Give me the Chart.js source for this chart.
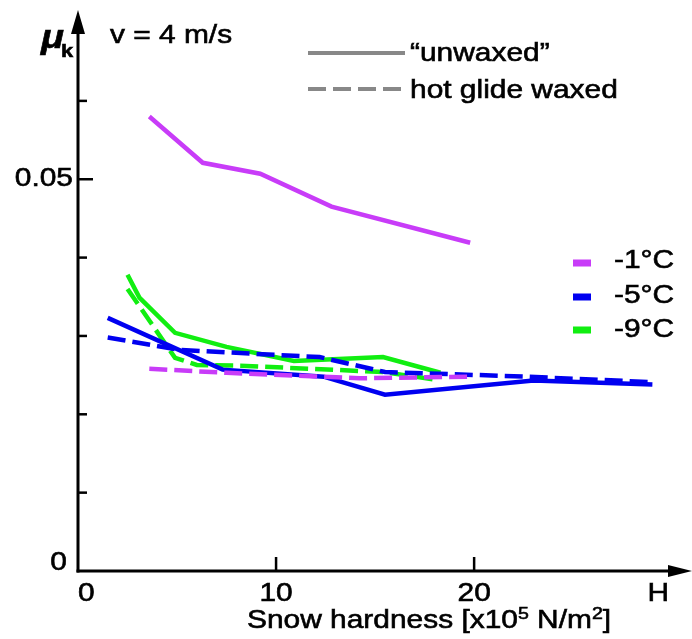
<!DOCTYPE html>
<html>
<head>
<meta charset="utf-8">
<script src="https://cdn.jsdelivr.net/npm/chart.js@4.4.1/dist/chart.umd.min.js"></script>
<style>
  html, body { margin: 0; padding: 0; background: #fff; }
  #wrap { width: 692px; height: 639px; }
</style>
</head>
<body>
<div id="wrap"><canvas id="mu-chart" width="692" height="639"></canvas></div>
<script>
// -1°C
const minus1UnwaxedX = [3.6, 6.3, 9.2, 12.8, 19.8];
const minus1UnwaxedY = [0.0580, 0.0521, 0.0507, 0.0465, 0.0419];
const minus1WaxedX = [3.6, 7.5, 14.2, 19.8];
const minus1WaxedY = [0.0258, 0.0253, 0.0246, 0.0248];
// -5°C
const minus5UnwaxedX = [1.5, 7.3, 12.4, 15.5, 23.0, 29.0];
const minus5UnwaxedY = [0.0323, 0.0257, 0.0248, 0.0225, 0.0243, 0.0238];
const minus5WaxedX = [1.5, 5.2, 12.2, 15.5, 22.7, 29.0];
const minus5WaxedY = [0.0298, 0.0282, 0.0273, 0.0254, 0.0248, 0.0241];
// -9°C
const minus9UnwaxedX = [2.5, 3.1, 4.9, 7.5, 10.9, 15.4, 18.3];
const minus9UnwaxedY = [0.0378, 0.0349, 0.0304, 0.0286, 0.0268, 0.0273, 0.0253];
const minus9WaxedX = [2.5, 4.9, 6.0, 8.2, 15.4, 18.1];
const minus9WaxedY = [0.0360, 0.0272, 0.0263, 0.0262, 0.0254, 0.0244];

// axis ticks and labels
const xTickValues = [10, 20];
const xLabelValues = [0, 10, 20, 29.3];
const xLabelTexts = ['0', '10', '20', 'H'];
const yTickValues = [0.01, 0.02, 0.03, 0.04, 0.05, 0.06];
const yLabelValues = [0, 0.05];
const yLabelTexts = ['0', '0.05'];

const tempNames = ['-1°C', '-5°C', '-9°C'];
const tempColors = ['#c83cf8', '#0000f0', '#11ee11'];
const waxNames = ['\u201Cunwaxed\u201D', 'hot glide waxed'];

const DASH = [18, 7];
const SX = 1.15; // horizontal stretch of the lettering
const FONT = '"Liberation Sans", Arial, sans-serif';

function pts(xs, ys) {
    return xs.map((x, i) => ({ x: x, y: ys[i] }));
}

function series(label, xs, ys, color, dashed) {
    return {
        label: label,
        data: pts(xs, ys),
        borderColor: color,
        borderWidth: 4.5,
        borderDash: dashed ? DASH : [],
        borderCapStyle: 'butt',
        pointRadius: 0,
        tension: 0,
        fill: false
    };
}

// draw horizontally stretched text pieces [text, size, dy, style]
function richText(ctx, pieces, x, y, align) {
    ctx.save();
    ctx.fillStyle = '#000';
    ctx.strokeStyle = '#000';
    ctx.lineWidth = 0.6;
    ctx.textBaseline = 'alphabetic';
    let total = 0;
    pieces.forEach(p => {
        ctx.font = (p[3] || '') + ' ' + p[1] + 'px ' + FONT;
        total += ctx.measureText(p[0]).width * SX;
    });
    let cx = x;
    if (align === 'center') cx = x - total / 2;
    if (align === 'right') cx = x - total;
    pieces.forEach(p => {
        ctx.font = (p[3] || '') + ' ' + p[1] + 'px ' + FONT;
        ctx.save();
        ctx.translate(cx, y + (p[2] || 0));
        ctx.scale(SX, 1);
        ctx.textAlign = 'left';
        ctx.fillText(p[0], 0, 0);
        ctx.strokeText(p[0], 0, 0);
        ctx.restore();
        cx += ctx.measureText(p[0]).width * SX;
    });
    ctx.restore();
}

const axesPlugin = {
    id: 'handAxes',
    afterDraw(chart) {
        const ctx = chart.ctx;
        const xs = chart.scales.x;
        const ys = chart.scales.y;
        const x0 = xs.getPixelForValue(0);
        const y0 = ys.getPixelForValue(0);
        const top = chart.chartArea.top;
        const right = chart.chartArea.right;

        ctx.save();
        ctx.strokeStyle = '#000';
        ctx.fillStyle = '#000';
        ctx.lineWidth = 3;
        // y axis
        ctx.beginPath();
        ctx.moveTo(x0, y0 + 1.5);
        ctx.lineTo(x0, top + 20);
        ctx.stroke();
        ctx.beginPath();
        ctx.moveTo(x0, top);
        ctx.lineTo(x0 - 7, top + 24);
        ctx.lineTo(x0 + 7, top + 24);
        ctx.closePath();
        ctx.fill();
        // x axis
        ctx.beginPath();
        ctx.moveTo(x0 - 1.5, y0);
        ctx.lineTo(right - 20, y0);
        ctx.stroke();
        ctx.beginPath();
        ctx.moveTo(right, y0);
        ctx.lineTo(right - 24, y0 - 6);
        ctx.lineTo(right - 24, y0 + 6);
        ctx.closePath();
        ctx.fill();

        // inside ticks
        ctx.lineWidth = 2.5;
        yTickValues.forEach(v => {
            const py = ys.getPixelForValue(v);
            const len = yLabelValues.includes(v) ? 15 : 9;
            ctx.beginPath();
            ctx.moveTo(x0, py);
            ctx.lineTo(x0 + len, py);
            ctx.stroke();
        });
        xTickValues.forEach(v => {
            const px = xs.getPixelForValue(v);
            ctx.beginPath();
            ctx.moveTo(px, y0);
            ctx.lineTo(px, y0 - 14);
            ctx.stroke();
        });
        ctx.restore();

        // tick labels
        xLabelValues.forEach((v, i) => {
            const px = xs.getPixelForValue(v);
            if (v === 0) richText(ctx, [[xLabelTexts[i], 26]], px, 601, 'left');
            else richText(ctx, [[xLabelTexts[i], 26]], px, 601, 'center');
        });
        yLabelValues.forEach((v, i) => {
            const py = ys.getPixelForValue(v);
            if (v === 0) richText(ctx, [[yLabelTexts[i], 26]], x0 - 11, py - 1, 'right');
            else richText(ctx, [[yLabelTexts[i], 26]], x0 - 5, py + 7, 'right');
        });

        // axis titles
        richText(ctx, [['Snow hardness [x10', 26], ['5', 17, -9], [' N/m', 26], ['2', 17, -9], [']', 26]], 247, 628, 'left');
        richText(ctx, [['\u03BC', 33, 0, 'italic bold']], 41, 48, 'left');
        richText(ctx, [['k', 19, 0, 'bold']], 61, 57, 'left');
        richText(ctx, [['v = 4 m/s', 26]], 110, 43, 'left');

        // line style legend
        ctx.save();
        ctx.strokeStyle = '#888';
        ctx.lineWidth = 4;
        ctx.beginPath();
        ctx.moveTo(308, 53);
        ctx.lineTo(405, 53);
        ctx.stroke();
        ctx.setLineDash(DASH);
        ctx.beginPath();
        ctx.moveTo(308, 89);
        ctx.lineTo(405, 89);
        ctx.stroke();
        ctx.restore();
        richText(ctx, [[waxNames[0], 26]], 410, 61, 'left');
        richText(ctx, [[waxNames[1], 26]], 410, 98, 'left');

        // temperature legend
        const swY = [263, 297, 330];
        const txY = [268, 303, 337];
        tempNames.forEach((n, i) => {
            ctx.save();
            ctx.fillStyle = tempColors[i];
            ctx.fillRect(573, swY[i] - 3.5, 18, 7);
            ctx.restore();
            richText(ctx, [[n, 26]], 614, txY[i], 'left');
        });
    }
};

const ctx = document.getElementById('mu-chart').getContext('2d');
new Chart(ctx, {
    type: 'line',
    data: {
        datasets: [
            series('-1°C unwaxed', minus1UnwaxedX, minus1UnwaxedY, tempColors[0], false),
            series('-1°C waxed', minus1WaxedX, minus1WaxedY, tempColors[0], true),
            series('-5°C unwaxed', minus5UnwaxedX, minus5UnwaxedY, tempColors[1], false),
            series('-5°C waxed', minus5WaxedX, minus5WaxedY, tempColors[1], true),
            series('-9°C unwaxed', minus9UnwaxedX, minus9UnwaxedY, tempColors[2], false),
            series('-9°C waxed', minus9WaxedX, minus9WaxedY, tempColors[2], true)
        ]
    },
    options: {
        responsive: false,
        animation: false,
        layout: { padding: { left: 78, right: 0, top: 10, bottom: 68 } },
        scales: {
            x: { type: 'linear', min: 0, max: 31, display: false },
            y: { type: 'linear', min: 0, max: 0.0716, display: false }
        },
        plugins: {
            legend: { display: false },
            tooltip: { enabled: false }
        }
    },
    plugins: [axesPlugin]
});
</script>
</body>
</html>
